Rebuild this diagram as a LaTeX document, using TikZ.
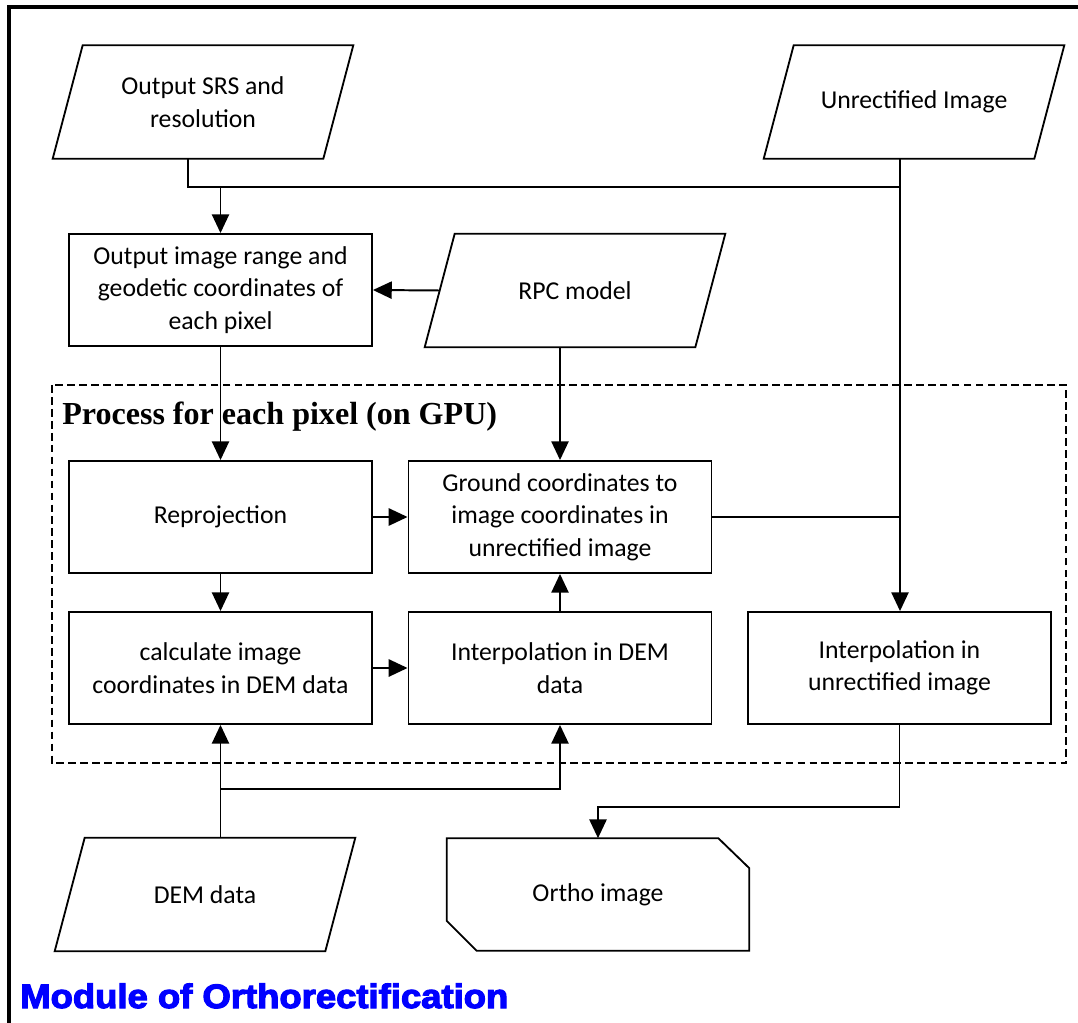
\documentclass[tikz,border=0pt]{standalone}
\usepackage{fontspec}
\setmainfont{Carlito}
\newfontfamily\titlefont{Liberation Serif}
\newfontfamily\modfont[FakeBold=3.5,FakeStretch=1.08]{Liberation Sans Bold}
\usetikzlibrary{arrows.meta,calc}
\definecolor{modblue}{RGB}{0,0,255}
\begin{document}
\begin{tikzpicture}[x=0.025cm,y=-0.025cm,
  every node/.style={font=\fontsize{18.3}{23}\selectfont, align=center, inner sep=0pt},
  procbox/.style={draw, line width=1.3pt, minimum width=7.575cm, minimum height=2.8cm},
  iobox/.style={minimum width=6.75cm, minimum height=2.825cm},
  para/.style={line width=1.3pt, line join=miter},
  conn/.style={line width=1.4pt},
  arr/.style={line width=1.4pt, -{Triangle[length=0.47cm,width=0.43cm]}},
  frame/.style={line width=2.4pt},
  groupbox/.style={line width=1pt, dash pattern=on 5.5pt off 3pt}
]
\useasboundingbox (0,0) rectangle (1078,1023);

% outer frame (top and left)
\draw[frame] (9,1023) -- (9,7) -- (1078,7);

% dashed group
\draw[groupbox] (52,385) rectangle (1066,763);
\node[anchor=base west, font=\titlefont\bfseries\fontsize{22.8}{26}\selectfont] (ptitle) at (62,425) {Process for each pixel (on GPU)};

% input parallelograms (text node + drawn outline)
\node[iobox] (srs) at (203,102) {Output SRS and\\resolution};
\node[iobox] (unrect) at (914,102) {Unrectified Image};
\node[iobox] (rpc) at (575,290.5) {RPC model};
\node[iobox] (dem) at (205,894.5) {DEM data};
\foreach \n in {srs,unrect,rpc,dem}{
  \draw[para] ([xshift=-0.375cm]\n.south west) -- ([xshift=-0.375cm]\n.south east)
     -- ([xshift=0.375cm]\n.north east) -- ([xshift=0.375cm]\n.north west) -- cycle;
}

% process boxes
\node[procbox] (outrange) at (220.5,290) {Output image range and\\geodetic coordinates of\\each pixel};
\node[procbox] (reproj) at (220.5,517) {Reprojection};
\node[procbox] (ground) at (560,517) {Ground coordinates to\\image coordinates in\\unrectified image};
\node[procbox] (calc) at (220.5,668) {calculate image\\coordinates in DEM data};
\node[procbox] (interpdem) at (560,668) {Interpolation in DEM\\data};
\node[procbox] (interpun) at (899.5,668) {Interpolation in\\unrectified image};

% output (ortho image)
\node[minimum width=7.55cm, minimum height=2.8cm] (ortho) at (598,894.5) {Ortho image};
\draw[para] (ortho.north west) -- ([xshift=-0.775cm]ortho.north east) -- ([yshift=-0.75cm]ortho.north east)
  -- (ortho.south east) -- ([xshift=0.75cm]ortho.south west) -- ([yshift=0.75cm]ortho.south west) -- cycle;

% junction coordinates
\coordinate (j0) at (188,187);
\coordinate (j1) at (900,187);
\coordinate (j2) at (598,807);
\coordinate (j3) at (560,789);

% connectors
\draw[conn] (srs.south -| j0) -- (j0) -- (j1);
\draw[arr] (j0 -| outrange.north) -- (outrange.north);
\draw[arr] (unrect.south -| j1) -- (j1 |- interpun.north);
\draw[arr] (rpc.west) -- (outrange.east);
\draw[arr] (outrange.south) -- (reproj.north);
\draw[arr] (rpc.south -| ground.north) -- (ground.north);
\draw[arr] (reproj.east) -- (ground.west);
\draw[conn] (ground.east) -- (ground.east -| j1);
\draw[arr] (reproj.south) -- (calc.north);
\draw[arr] (calc.east) -- (interpdem.west);
\draw[arr] (interpdem.north) -- (ground.south);
\draw[arr] (interpun.south) |- (j2) -- (ortho.north);
\draw[arr] (dem.north -| calc.south) -- (calc.south);
\draw[arr] (calc.south |- j3) -- (j3) -- (interpdem.south);

% module title
\node[anchor=base west, font=\modfont\fontsize{24}{28}\selectfont, text=modblue] (modtitle) at (20,1008) {Module of Orthorectification};
\end{tikzpicture}
\end{document}
